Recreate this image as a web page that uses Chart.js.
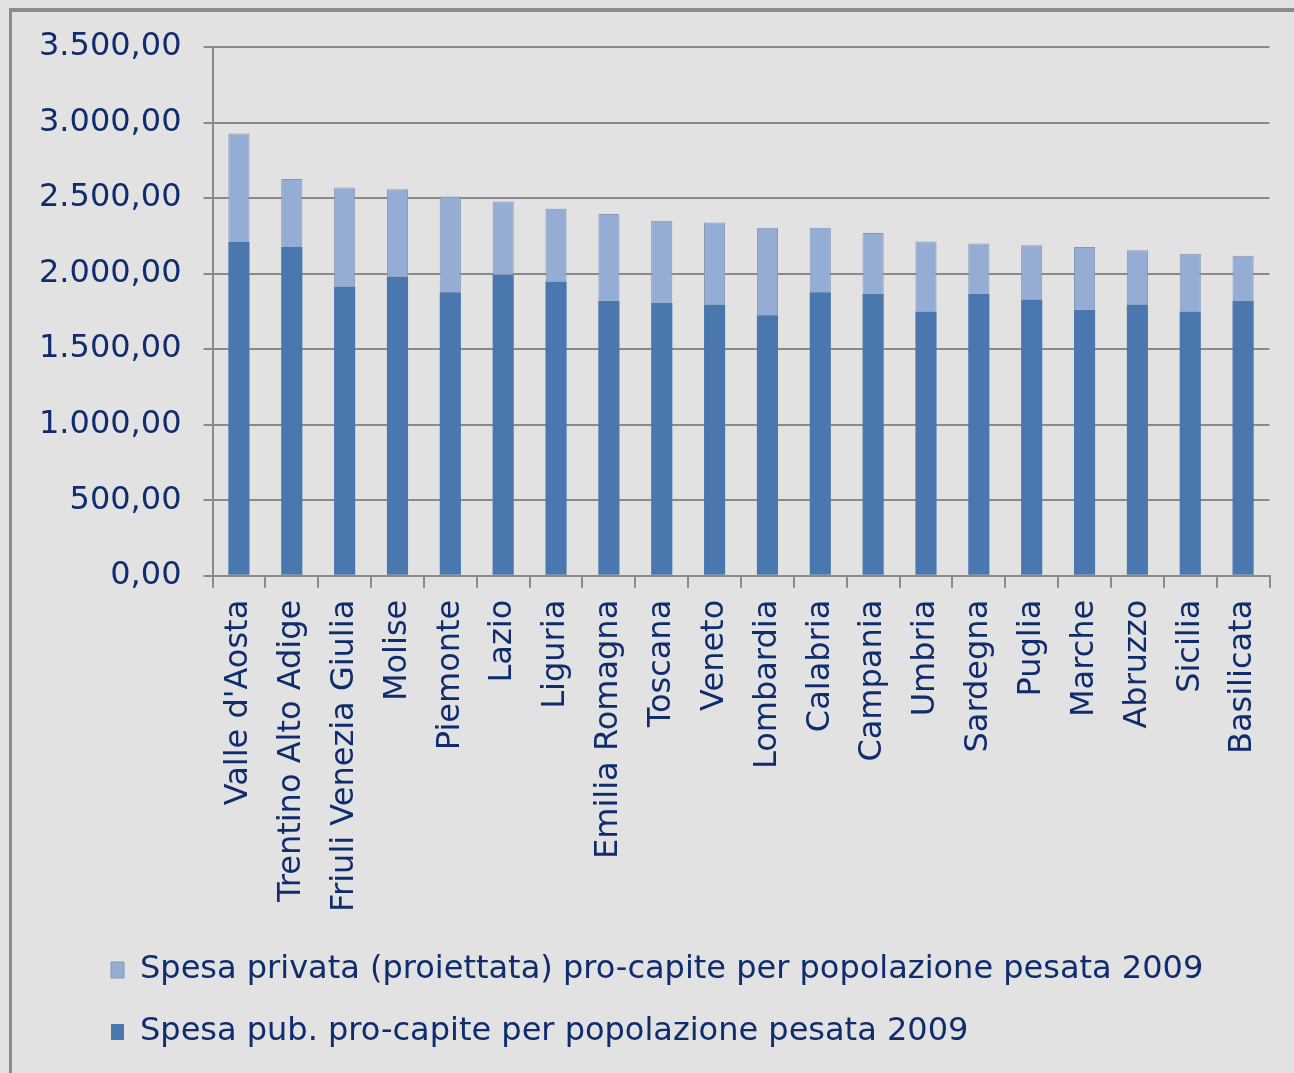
<!DOCTYPE html>
<html>
<head>
<meta charset="utf-8">
<script src="https://cdn.jsdelivr.net/npm/chart.js@4.4.0/dist/chart.umd.min.js"></script>
<style>
  html, body { margin: 0; padding: 0; }
  body { width: 1294px; height: 1073px; background: #e2e2e2; position: relative; overflow: hidden; }
  #cornice { position: absolute; left: 9px; top: 8px; right: -10px; bottom: -10px;
             border-left: 3px solid #8c8c8c; border-top: 4px solid #8c8c8c; }
  #box { position: absolute; left: 0; top: 0; width: 1294px; height: 1073px; }
</style>
</head>
<body>
<div id="cornice"></div>
<div id="box"><canvas id="myChart"></canvas></div>
<script>
const regioni = ["Valle d'Aosta", "Trentino Alto Adige", "Friuli Venezia Giulia", "Molise", "Piemonte",
  "Lazio", "Liguria", "Emilia Romagna", "Toscana", "Veneto", "Lombardia", "Calabria", "Campania",
  "Umbria", "Sardegna", "Puglia", "Marche", "Abruzzo", "Sicilia", "Basilicata"]

// spesa pubblica pro-capite (parte scura, in basso)
const spesaPub = [2210, 2176, 1914, 1981, 1876, 1992, 1947, 1820, 1805, 1796,
  1725, 1876, 1865, 1749, 1865, 1829, 1760, 1796, 1749, 1818]

// spesa privata proiettata (parte chiara, sopra)
const spesaPriv = [717, 450, 656, 578, 634, 485, 483, 575, 545, 543,
  578, 427, 403, 463, 334, 359, 416, 358, 383, 301]

const tickY = [0, 500, 1000, 1500, 2000, 2500, 3000, 3500]

const blu = '#0f2c6e'
const griglia = '#8a8a8a'
const font = "'DejaVu Sans', Verdana, sans-serif"

function formatoIt(v) {
  const intero = Math.round(v).toString().replace(/\B(?=(\d{3})+(?!\d))/g, '.')
  return intero + ',00'
}

// sposta la legenda a destra come nell'originale
const spostaLegenda = {
  id: 'spostaLegenda',
  afterLayout(chart) {
    chart.legend.left = 81
  }
}

const ctx = document.getElementById('myChart')

new Chart(ctx, {
  type: 'bar',
  data: {
    labels: regioni,
    datasets: [
      {
        label: 'Spesa pub. pro-capite per popolazione pesata 2009',
        data: spesaPub,
        backgroundColor: '#4a78ae',
        borderWidth: 0
      },
      {
        label: 'Spesa privata (proiettata) pro-capite per popolazione pesata 2009',
        data: spesaPriv,
        backgroundColor: '#95acd4',
        borderColor: '#8797b6',
        borderWidth: 1
      }
    ]
  },
  options: {
    responsive: true,
    maintainAspectRatio: false,
    animation: false,
    layout: { padding: { top: 47, left: 17, right: 20, bottom: 15 } },
    datasets: { bar: { categoryPercentage: 1, barPercentage: 0.4 } },
    scales: {
      x: {
        stacked: true,
        grid: { offset: true, drawOnChartArea: false, drawTicks: true, tickLength: 12, color: griglia, lineWidth: 2 },
        border: { color: griglia, width: 2 },
        ticks: { color: blu, font: { family: font, size: 32 }, minRotation: 90, maxRotation: 90, padding: 12, autoSkip: false }
      },
      y: {
        stacked: true,
        min: 0,
        max: 3500,
        afterBuildTicks(scale) { scale.ticks = tickY.map(v => ({ value: v })) },
        grid: { color: griglia, lineWidth: 2, tickLength: 9 },
        border: { color: griglia, width: 2 },
        ticks: { color: blu, font: { family: font, size: 32 }, padding: 22, callback: v => formatoIt(v) }
      }
    },
    plugins: {
      legend: {
        position: 'bottom',
        align: 'start',
        reverse: true,
        labels: {
          color: blu,
          font: { family: font, size: 32 },
          boxWidth: 13,
          boxHeight: 16,
          padding: 30
        }
      },
      tooltip: { enabled: false }
    }
  },
  plugins: [spostaLegenda]
})
</script>
</body>
</html>
